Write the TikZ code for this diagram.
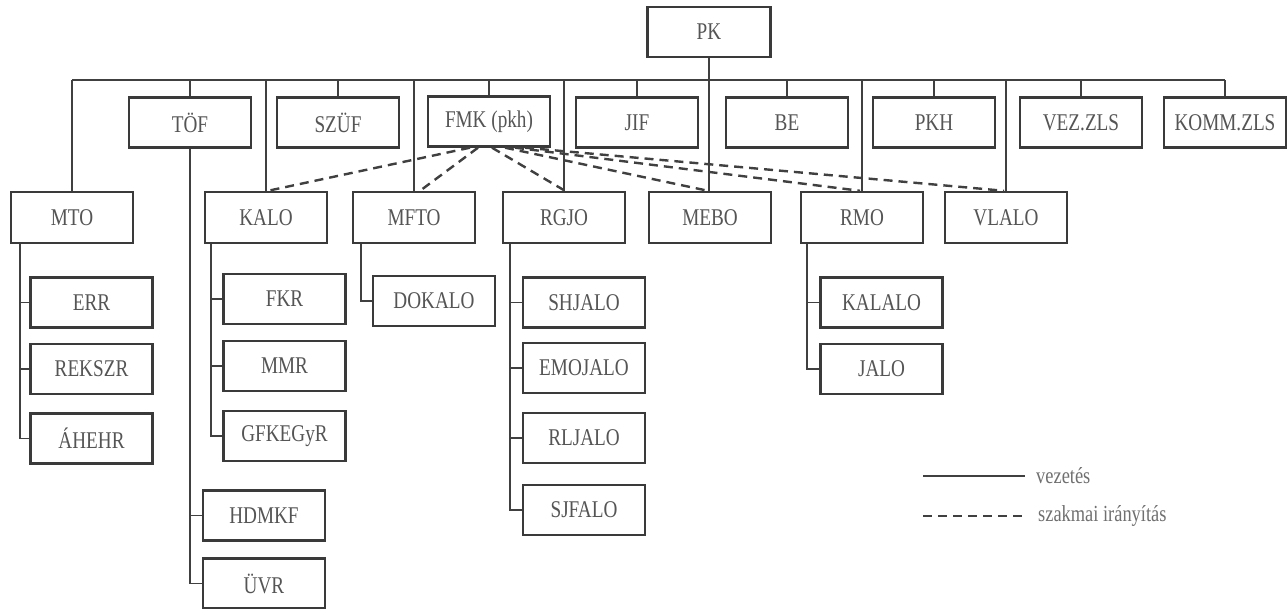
\documentclass[tikz,border=0pt]{standalone}
\usepackage{fontspec}
\setmainfont{Liberation Serif}[FakeStretch=0.8]
\definecolor{boxcol}{HTML}{3A3A3A}
\definecolor{linecol}{HTML}{404040}
\definecolor{txtcol}{HTML}{555555}
\definecolor{legcol}{HTML}{707070}
\begin{document}
\begin{tikzpicture}[x=1pt,y=-1pt,
  box/.style={draw=boxcol, line width=2.4pt, minimum width=122pt, minimum height=50pt,
    inner sep=0pt, text=txtcol, font=\fontsize{24}{28}\selectfont},
  conn/.style={draw=linecol, line width=1.8pt},
  guide/.style={draw=linecol, line width=2.4pt, dash pattern=on 9pt off 6pt},
  legtext/.style={anchor=west, inner sep=0pt, text=legcol, font=\fontsize{23}{27}\selectfont}]
\useasboundingbox (0,0) rectangle (1288,609);
\fill[white] (0,0) rectangle (1288,609);

% top
\node[box, minimum width=123pt] (PK) at (709,32) {PK};

% second row
\node[box] (TOF)  at (190,122.5)  {TÖF};
\node[box] (SZUF) at (338,122.5)  {SZÜF};
\node[box] (FMK)  at (489,121.5)  {FMK (pkh)};
\node[box] (JIF)  at (637,122.5)  {JIF};
\node[box] (BE)   at (787,122.5)  {BE};
\node[box] (PKH)  at (934,122.5)  {PKH};
\node[box] (VEZ)  at (1081,122.5) {VEZ.ZLS};
\node[box] (KOMM) at (1225,122.5) {KOMM.ZLS};

% third row
\node[box, minimum height=51pt] (MTO)   at (72,217.5)   {MTO};
\node[box, minimum height=51pt] (KALO)  at (266,217.5)  {KALO};
\node[box, minimum height=51pt] (MFTO)  at (414,217.5)  {MFTO};
\node[box, minimum height=51pt] (RGJO)  at (564,217.5)  {RGJO};
\node[box, minimum height=51pt] (MEBO)  at (710,217.5)  {MEBO};
\node[box, minimum height=51pt] (RMO)   at (862,217.5)  {RMO};
\node[box, minimum height=51pt] (VLALO) at (1006,217.5) {VLALO};

% sub boxes
\node[box] (ERR)    at (91.5,302.5) {ERR};
\node[box] (REKSZR) at (91.5,369)   {REKSZR};
\node[box] (AHEHR)  at (91.5,438.5) {ÁHEHR};

\node[box] (FKR)     at (284.5,299) {FKR};
\node[box] (MMR)     at (284.5,366) {MMR};
\node[box] (GFKEGYR) at (284.5,436) {GFKEGyR};

\node[box] (HDMKF) at (264,515.5) {HDMKF};
\node[box] (UVR)   at (264,583.5) {ÜVR};

\node[box] (DOKALO) at (434,301) {DOKALO};

\node[box] (SHJALO)  at (584,302.5) {SHJALO};
\node[box] (EMOJALO) at (584,368)   {EMOJALO};
\node[box] (RLJALO)  at (584,438)   {RLJALO};
\node[box] (SJFALO)  at (584,510)   {SJFALO};

\node[box] (KALALO) at (881.5,302.5) {KALALO};
\node[box] (JALO)   at (881.5,369)   {JALO};

% bus
\coordinate (busL) at (72,80);
\coordinate (busR) at (1225,80);
\draw[conn] (busL) -- (busR);
\draw[conn] (PK.south) -- (PK.south |- MEBO.north);
\foreach \n in {TOF,SZUF,FMK,JIF,BE,PKH,VEZ,KOMM,MTO,KALO,MFTO,RGJO,RMO,VLALO}
  \draw[conn] (\n.north) -- (\n.north |- busL);

% branches
\draw[conn] (TOF.south) |- (UVR.west);
\draw[conn] (TOF.south |- HDMKF.west) -- (HDMKF.west);

\coordinate (mtob) at ([xshift=10pt]MTO.south west);
\draw[conn] (mtob) |- (AHEHR.west);
\draw[conn] (mtob |- ERR.west) -- (ERR.west);
\draw[conn] (mtob |- REKSZR.west) -- (REKSZR.west);

\coordinate (kalob) at ([xshift=7pt]KALO.south west);
\draw[conn] (kalob) |- (GFKEGYR.west);
\draw[conn] (kalob |- FKR.west) -- (FKR.west);
\draw[conn] (kalob |- MMR.west) -- (MMR.west);

\coordinate (mftob) at ([xshift=9pt]MFTO.south west);
\draw[conn] (mftob) |- (DOKALO.west);

\coordinate (rgjob) at ([xshift=8pt]RGJO.south west);
\draw[conn] (rgjob) |- (SJFALO.west);
\draw[conn] (rgjob |- SHJALO.west) -- (SHJALO.west);
\draw[conn] (rgjob |- EMOJALO.west) -- (EMOJALO.west);
\draw[conn] (rgjob |- RLJALO.west) -- (RLJALO.west);

\coordinate (rmob) at ([xshift=7pt]RMO.south west);
\draw[conn] (rmob) |- (JALO.west);
\draw[conn] (rmob |- KALALO.west) -- (KALALO.west);

% professional guidance (dashed)
\draw[guide] ([xshift=-19pt]FMK.south) -- ([xshift=2pt]KALO.north);
\draw[guide] ([xshift=-11pt]FMK.south) -- ([xshift=6pt]MFTO.north);
\draw[guide] ([xshift=3pt]FMK.south) -- ([xshift=1pt]RGJO.north);
\draw[guide] ([xshift=16pt]FMK.south) -- ([xshift=-2pt]MEBO.north);
\draw[guide] ([xshift=26pt]FMK.south) -- ([xshift=-2pt]RMO.north);
\draw[guide] ([xshift=36pt]FMK.south) -- ([xshift=-2pt]VLALO.north);

% legend
\coordinate (l1a) at (923,476);
\coordinate (l1b) at (1025,476);
\coordinate (l2a) at (923,516);
\coordinate (l2b) at (1025,516);
\draw[conn, line width=2.4pt] (l1a) -- (l1b);
\draw[guide, line width=2.6pt] (l2a) -- (l2b);
\node[legtext] (lt1) at (1036,476) {vezetés};
\node[legtext] (lt2) at (1038,516) {szakmai irányítás};
\end{tikzpicture}
\end{document}
